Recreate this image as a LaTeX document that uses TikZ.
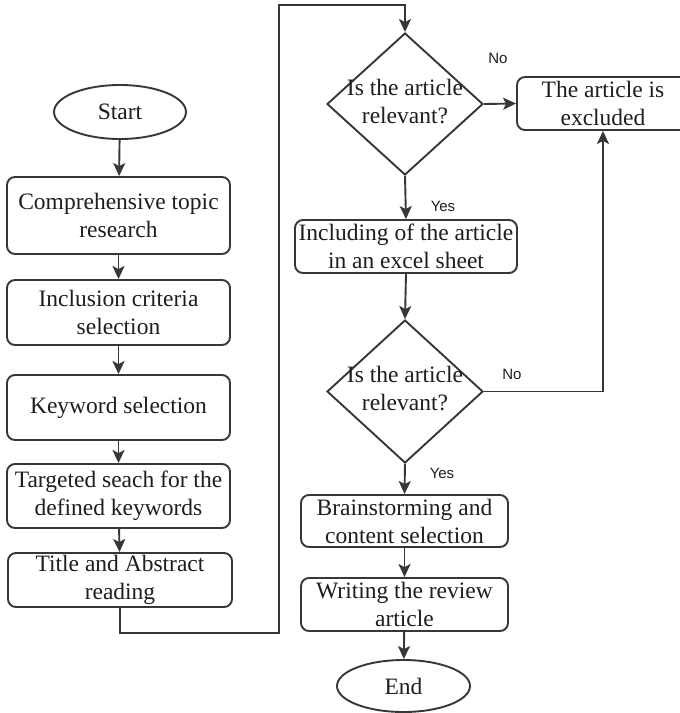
\documentclass[tikz,border=0pt]{standalone}
\usepackage{fontspec}
\setmainfont{Liberation Serif}
\newfontfamily\labelfont{Liberation Sans}
\usetikzlibrary{shapes.geometric,arrows.meta}
\definecolor{linegray}{RGB}{55,55,55}
\definecolor{textgray}{RGB}{30,30,30}
\begin{document}
\begin{tikzpicture}[x=1pt,y=-1pt,
  boxtext/.style={font=\fontsize{23.5}{28}\selectfont, text=textgray, align=center},
  stepbox/.style={boxtext, draw=linegray, line width=1.9pt, rounded corners=8pt,
    rectangle, inner sep=0pt},
  terminal/.style={boxtext, draw=linegray, line width=1.9pt, ellipse, inner sep=0pt},
  decision/.style={draw=linegray, line width=1.9pt, diamond, inner sep=0pt},
  answer/.style={font=\labelfont\fontsize{15}{18}\selectfont, text=textgray},
  line/.style={draw=linegray, line width=1.9pt},
  flow/.style={line, -{Stealth[length=13pt,width=12pt,inset=3pt]}}
]
\path[use as bounding box] (0,0) rectangle (680,713);
\clip (0,0) rectangle (680,713);
\fill[white] (0,0) rectangle (680,713);

% left column
\node[terminal, minimum width=132pt, minimum height=54pt] (start) at (120,112) {Start};
\node[stepbox, minimum width=223pt, minimum height=77pt] (topic) at (118.5,215.5)
  {Comprehensive topic\\research};
\node[stepbox, minimum width=223pt, minimum height=65pt] (criteria) at (118.5,312.5)
  {Inclusion criteria\\selection};
\node[stepbox, minimum width=223pt, minimum height=65pt] (keyword) at (118.5,407.5)
  {Keyword selection};
\node[stepbox, minimum width=223pt, minimum height=64pt] (search) at (118.5,496)
  {Targeted seach for the\\defined keywords};
\node[stepbox, minimum width=224pt, minimum height=54pt] (reading) at (120,580)
  {Title and Abstract\\reading};

% right column
\node[decision, minimum width=156pt, minimum height=142pt] (rel1) at (405,104) {};
\node[boxtext, inner sep=0pt] (rel1text) at (405,102) {Is the article\\relevant?};
\node[stepbox, minimum width=172pt, minimum height=53pt] (excluded) at (603,103.5)
  {The article is\\excluded};
\node[stepbox, minimum width=222pt, minimum height=53pt] (sheet) at (406,246.5)
  {Including of the article\\in an excel sheet};
\node[decision, minimum width=156pt, minimum height=143pt] (rel2) at (405,391.5) {};
\node[boxtext, inner sep=0pt] (rel2text) at (405,389) {Is the article\\relevant?};
\node[stepbox, minimum width=207pt, minimum height=52pt] (brain) at (404.5,521)
  {Brainstorming and\\content selection};
\node[stepbox, minimum width=207pt, minimum height=53pt] (writing) at (404.5,604.5)
  {Writing the review\\article};
\node[terminal, minimum width=133pt, minimum height=52pt] (end) at (403.5,686) {End};

% answer labels
\node[answer] (no1) at (498,58) {No};
\node[answer] (yes1) at (443,206) {Yes};
\node[answer] (no2) at (512,374) {No};
\node[answer] (yes2) at (442,473) {Yes};

% route from the left column to the right one
\coordinate (turnlow) at (279,633);
\coordinate (turnhigh) at (279,5);

% connectors
\draw[flow] (start) -- (topic);
\draw[flow] (topic) -- (criteria);
\draw[flow] (criteria) -- (keyword);
\draw[flow] (keyword) -- (search);
\draw[flow] (search) -- (reading);
\draw[flow] (reading.south) |- (turnlow) -- (turnhigh) -| (rel1.north);
\draw[flow] (rel1.east) -- (excluded.west);
\draw[flow] (rel1.south) -- (sheet.north);
\draw[flow] (sheet.south) -- (rel2.north);
\draw[flow] (rel2.east) -| (excluded.south);
\draw[flow] (rel2.south) -- (brain.north);
\draw[flow] (brain) -- (writing);
\draw[flow] (writing) -- (end);
\end{tikzpicture}
\end{document}
